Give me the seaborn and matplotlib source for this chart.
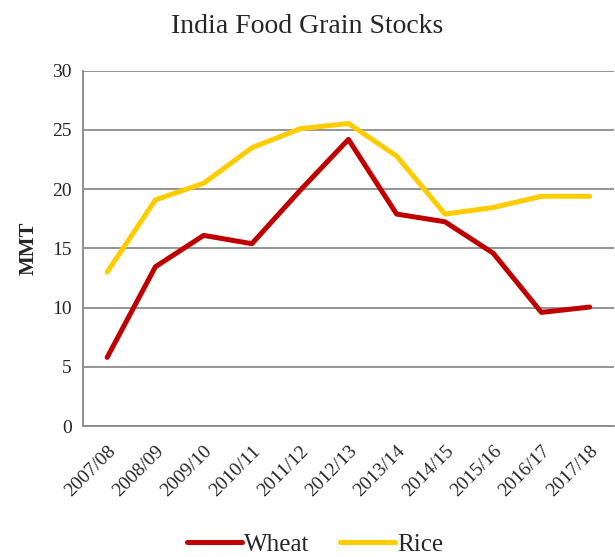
import pandas as pd
import matplotlib.pyplot as plt
import seaborn as sns

years = ["2007/08", "2008/09", "2009/10", "2010/11", "2011/12", "2012/13",
         "2013/14", "2014/15", "2015/16", "2016/17", "2017/18"]
wheat = [5.8, 13.45, 16.1, 15.4, 19.9, 24.2, 17.9, 17.25, 14.6, 9.6, 10.05]
rice = [13.0, 19.1, 20.5, 23.5, 25.1, 25.55, 22.8, 17.9, 18.45, 19.4, 19.4]

df = pd.DataFrame({
    "Year": years * 2,
    "MMT": wheat + rice,
    "Grain": ["Wheat"] * len(years) + ["Rice"] * len(years),
})

sns.set_style("white")
plt.rcParams['font.family'] = ['Liberation Serif', 'DejaVu Serif']

fig = plt.figure(figsize=(6.15, 5.57), dpi=100)
ax = fig.add_axes([0.135, 0.235, 0.863, 0.638])

sns.lineplot(data=df, x="Year", y="MMT", hue="Grain",
             palette={"Wheat": "#C00000", "Rice": "#FFCC00"},
             linewidth=3.6, ax=ax, legend=False)

ax.set_ylim(0, 30)
ax.set_yticks(range(0, 31, 5))
ax.set_xlim(-0.5, len(years) - 0.5)
ax.set_xticks(range(len(years)))
ax.set_xticklabels(years, rotation=45, ha="right", rotation_mode="anchor", fontsize=14)
ax.set_xticks([i - 0.5 for i in range(len(years) + 1)], minor=True)
ax.tick_params(axis="x", which="major", length=0, pad=12)
ax.tick_params(axis="x", which="minor", length=5, width=1.2, color="#888888", direction="out")
ax.tick_params(axis="y", length=5, width=1.2, color="#888888", direction="out", labelsize=14, pad=3)

ax.yaxis.grid(True, color="#8c8c8c", linewidth=1.3)
ax.set_axisbelow(True)
for s in ["top", "right"]:
    ax.spines[s].set_visible(False)
for s in ["left", "bottom"]:
    ax.spines[s].set_color("#888888")
    ax.spines[s].set_linewidth(1.3)

ax.set_xlabel("")
ax.set_ylabel("MMT", fontsize=15, fontweight="bold", labelpad=10)
fig.suptitle("India Food Grain Stocks", fontsize=20, y=0.975)

handles = [plt.Line2D([], [], color="#C00000", linewidth=3.6),
           plt.Line2D([], [], color="#FFCC00", linewidth=3.6)]
fig.legend(handles, ["Wheat", "Rice"], loc="center", bbox_to_anchor=(0.512, 0.022),
           ncol=2, frameon=False, fontsize=18, handlelength=2.2,
           handletextpad=0.1, columnspacing=1.2)

fig.savefig("out.png", dpi=100)
